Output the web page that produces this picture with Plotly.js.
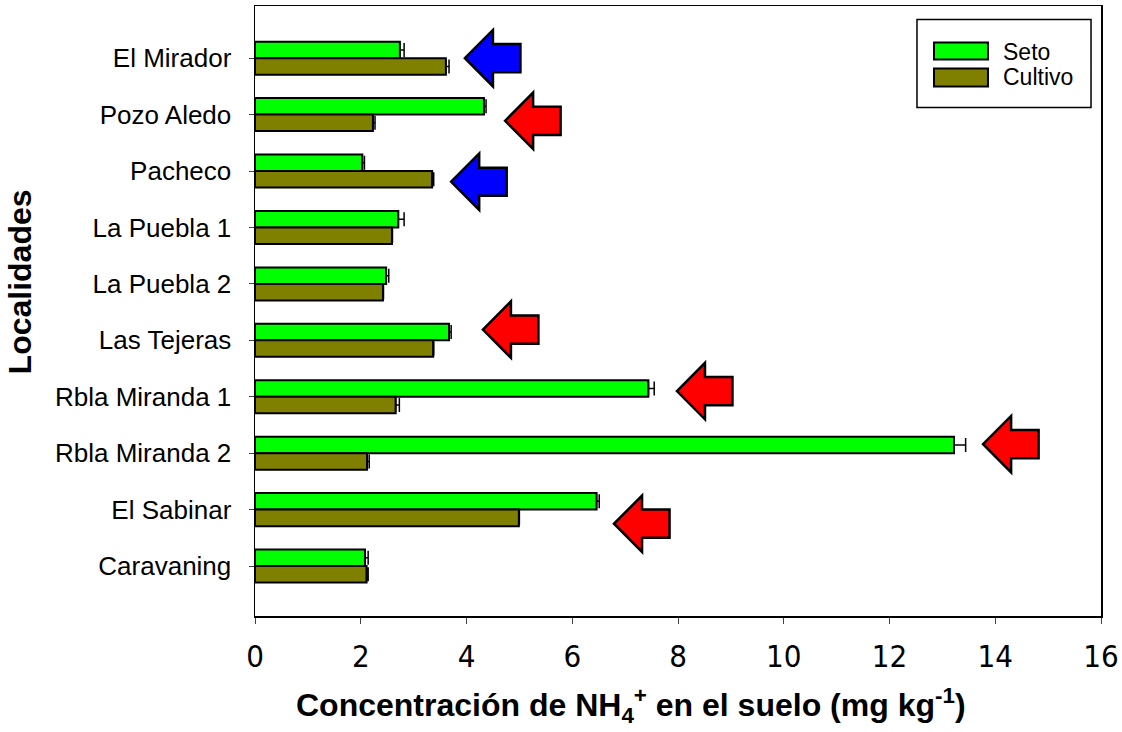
<!DOCTYPE html>
<html>
<head>
<meta charset="utf-8">
<script src="https://cdn.plot.ly/plotly-3.0.1.min.js"></script>
<style>html,body{margin:0;padding:0;background:#fff;}#chart{width:1122px;height:732px;}</style>
</head>
<body>
<div id="chart"></div>
<script>
// Data
var localidades = ["El Mirador", "Pozo Aledo", "Pacheco", "La Puebla 1", "La Puebla 2", "Las Tejeras", "Rbla Miranda 1", "Rbla Miranda 2", "El Sabinar", "Caravaning"];
var seto = [2.74, 4.33, 2.03, 2.71, 2.48, 3.67, 7.44, 13.22, 6.46, 2.08];
var setoErr = [0.08, 0.04, 0.04, 0.11, 0.05, 0.04, 0.11, 0.22, 0.05, 0.06];
var cultivo = [3.61, 2.23, 3.35, 2.59, 2.42, 3.37, 2.66, 2.12, 4.99, 2.11];
var cultivoErr = [0.06, 0.04, 0.03, 0.01, 0.01, 0.01, 0.07, 0.04, 0.01, 0.03];
var seriesNames = ["Seto", "Cultivo"];
var seriesColors = ["#00FF00", "#808000"];
var xTicks = [0, 2, 4, 6, 8, 10, 12, 14, 16];
var xTitle = '<b>Concentración de NH<sub>4</sub><sup>+</sup> en el suelo (mg kg<sup>-1</sup>)</b>';
var yTitle = '<b>Localidades</b>';
// Arrow markers: locality, tip x (data units), vertical offset from category, colour
var arrowLoc = ["El Mirador", "Pozo Aledo", "Pacheco", "Las Tejeras", "Rbla Miranda 1", "Rbla Miranda 2", "El Sabinar"];
var arrowTip = [3.97, 4.73, 3.71, 4.31, 7.98, 13.77, 6.79];
var arrowOff = [0.0, 0.11, 0.19, -0.19, -0.1, -0.16, 0.25];
var arrowColor = ["#0000FF", "#FF0000", "#0000FF", "#FF0000", "#FF0000", "#FF0000", "#FF0000"];

var idx = localidades.map(function(_, i){ return i; });
var zeros = idx.map(function(){ return 0; });

var traces = [
  {type:'bar', orientation:'h', name:seriesNames[0], x:seto, y:idx, showlegend:false,
   marker:{color:seriesColors[0], line:{color:'#000', width:2}},
   error_x:{type:'data', symmetric:false, array:setoErr, arrayminus:zeros, color:'#000', thickness:1.5, width:7}},
  {type:'bar', orientation:'h', name:seriesNames[1], x:cultivo, y:idx, showlegend:false,
   marker:{color:seriesColors[1], line:{color:'#000', width:2}},
   error_x:{type:'data', symmetric:false, array:cultivoErr, arrayminus:zeros, color:'#000', thickness:1.5, width:7}}
];

var L = 1.05, H = 0.53, hh = 0.5, th = 0.25;
var shapes = arrowLoc.map(function(loc, k){
  var yc = localidades.indexOf(loc) + arrowOff[k];
  var xt = arrowTip[k];
  var p = 'M' + xt + ',' + yc +
    ' L' + (xt+H) + ',' + (yc-hh) +
    ' L' + (xt+H) + ',' + (yc-th) +
    ' L' + (xt+L) + ',' + (yc-th) +
    ' L' + (xt+L) + ',' + (yc+th) +
    ' L' + (xt+H) + ',' + (yc+th) +
    ' L' + (xt+H) + ',' + (yc+hh) + ' Z';
  return {type:'path', xref:'x', yref:'y', path:p, fillcolor:arrowColor[k], line:{color:'#000', width:2.5}, layer:'above'};
});

// Legend drawn as box + swatches + labels (paper coords)
shapes.push({type:'rect', xref:'paper', yref:'paper', x0:0.7825, x1:0.9882, y0:0.8337, y1:0.9779,
             fillcolor:'#fff', line:{color:'#000', width:1.5}, layer:'above'});
var swY = [[0.9124, 0.9402], [0.8681, 0.8976]];
var txtY = [0.9238, 0.8829];
var annotations = [];
seriesNames.forEach(function(nm, i){
  shapes.push({type:'rect', xref:'paper', yref:'paper', x0:0.8026, x1:0.8664, y0:swY[i][0], y1:swY[i][1],
               fillcolor:seriesColors[i], line:{color:'#000', width:2}, layer:'above'});
  annotations.push({xref:'paper', yref:'paper', x:0.8818, y:txtY[i], xanchor:'left', yanchor:'middle',
                    text:nm, showarrow:false, font:{size:23}});
});
// Axis titles
annotations.push({xref:'paper', yref:'paper', x:0.4444, y:-0.1475, xanchor:'center', yanchor:'middle',
                  text:xTitle, showarrow:false, font:{size:32}});
annotations.push({xref:'paper', yref:'paper', x:-0.2777, y:0.547, xanchor:'center', yanchor:'middle',
                  text:yTitle, textangle:-90, showarrow:false, font:{size:32}});

var font = 'Arial, "Liberation Sans", sans-serif';
var narrow = '"Liberation Sans Narrow", "DejaVu Sans Condensed", Arial, sans-serif';
var layout = {
  width:1122, height:732,
  margin:{l:255, r:21, t:6, b:116},
  paper_bgcolor:'#fff', plot_bgcolor:'#fff',
  font:{family:font, color:'#000', size:22},
  barmode:'group', bargap:0.415, bargroupgap:0,
  showlegend:false,
  xaxis:{range:[0,16], tickvals:xTicks, ticktext:xTicks.map(String), ticks:'outside', ticklen:6, tickwidth:1,
         showline:true, linecolor:'#000', linewidth:1.5, mirror:true, showgrid:false, zeroline:false,
         ticklabelstandoff:6, tickfont:{family:narrow, size:31, color:'#000'}},
  yaxis:{range:[9.885,-0.924], tickvals:idx, ticktext:localidades, ticks:'outside', ticklen:5, tickwidth:1,
         showline:true, linecolor:'#000', linewidth:1.5, mirror:true, showgrid:false, zeroline:false,
         ticklabelstandoff:12, tickfont:{family:font, size:26, color:'#000'}},
  shapes:shapes,
  annotations:annotations
};

Plotly.newPlot('chart', traces, layout, {displayModeBar:false, staticPlot:true});
</script>
</body>
</html>
